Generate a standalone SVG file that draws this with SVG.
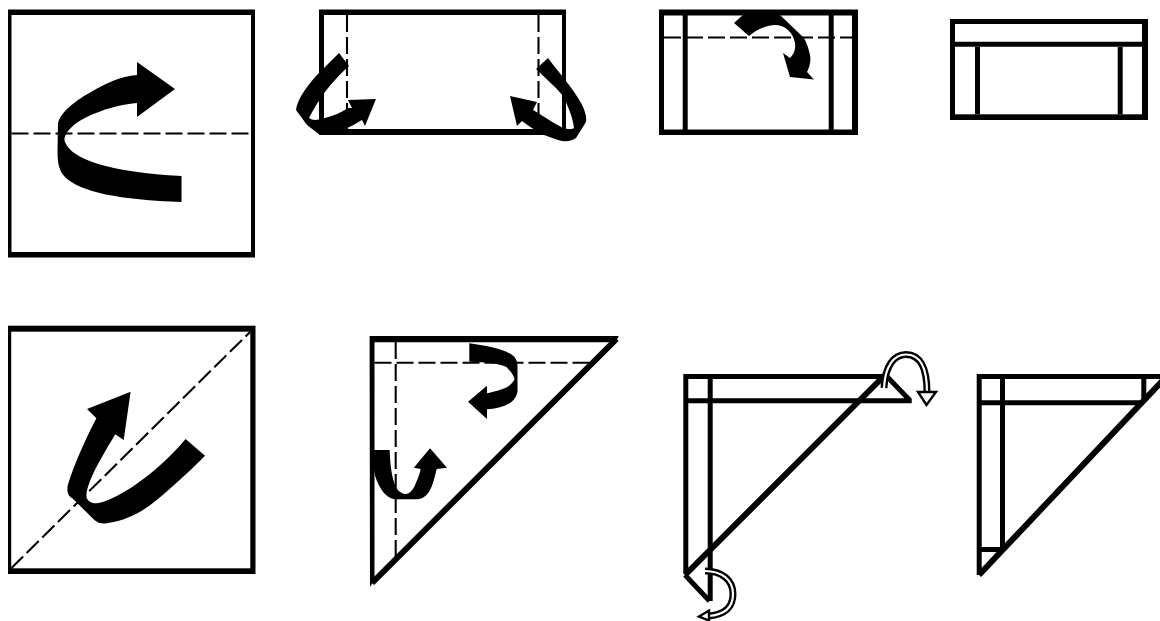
<svg xmlns="http://www.w3.org/2000/svg" width="1160" height="621" viewBox="0 0 1160 621">
<style>
.b{fill:#000;stroke:none}
.w{fill:#fff;stroke:none}
.l{fill:none;stroke:#000;stroke-width:5}
.h{fill:none;stroke:#000;stroke-width:6}
.d{fill:none;stroke:#000;stroke-width:2.1;stroke-dasharray:17 5}
.ho{fill:none;stroke:#000;stroke-width:7}
.hi{fill:none;stroke:#fff;stroke-width:2.2}
.hh{fill:#fff;stroke:#000;stroke-width:2.4}
</style>
<rect width="1160" height="621" fill="#fff"/>
<g id="fig1">
<rect class="b" x="8" y="9.5" width="247" height="248"/>
<rect class="w" x="11.5" y="15" width="239.5" height="237"/>
<path class="d" d="M11.5 133.5H251"/>
<path class="b" d="M137 62L175 89L137 117V103C112 105 85 116 74 125C67 131 63 137 65 142C72 160 110 172 181.5 176V202C120 200 80 192 65 177C58 170 57.5 160 57.5 150L58 123C62 108 85 95 100 87C115 79 125 76 137 75Z"/>
</g>
<g id="fig2">
<rect class="b" x="319" y="9.5" width="247" height="125.5"/>
<rect class="w" x="324" y="15" width="238" height="114"/>
<path class="d" d="M347 15V129M538.5 15V129"/>
<path class="b" d="M339 53L349 66C338 76 332 83 325 92C319 100 313 110 309 118C313 121 318 120 325 118C333 116 340 113 348 108L352 108L348 100L376 99L365 126L362 120C352 126 343 132 320 135L307 125L296 110C297 99 309 83 320 72Z"/>
<path class="b" d="M548 58C560 74 573 88 581 103C585 110 587 118 586 122L576 138C570 142 565 142 558 140L544 135C535 130 528 126 522 121L517 126L510 96L537 102L533 110C545 117 555 124 563 128C567 129 571 130 574 128C573 118 568 106 563 96C555 86 545 78 536 69Z"/>
</g>
<g id="fig3">
<rect class="b" x="659" y="9.5" width="199" height="125.5"/>
<rect class="w" x="664" y="15.5" width="188" height="114"/>
<path class="d" d="M664 37.5H852"/>
<path class="l" d="M685.2 15V130M831.2 15V130"/>
<path class="b" d="M743 15L734 23L749 36C757 29 768 25 775 25C785 25 793 32 795 43C796 50 793 55 790 58L783 53L790 77L814 79.5L807 72C810 66 811 60 810 55C808 46 806 41 803 37L780 15Z"/>
</g>
<g id="fig4">
<rect class="b" x="950" y="19" width="198" height="101"/>
<rect class="w" x="955" y="24" width="187" height="90.3"/>
<path class="l" d="M955 44.2H1142M977.5 47V114.3M1120.2 47V114.3"/>
</g>
<g id="fig5">
<rect class="b" x="8" y="325.7" width="247.5" height="248.3"/>
<rect class="w" x="11.2" y="331.7" width="239.1" height="236.6"/>
<path class="d" d="M11 568.5L250 332"/>
<path class="b" d="M130.6 391.7L87 409L96.4 418.3C84 442 72 470 67.5 486.7C67 492 68 496 72.3 498.3L94.4 520C98 523 102 524 106.5 523.3C130 520 145 510 160.7 496.7C178 482 193 468 205 455.7L185.6 439C170 458 150 475 132.6 486.7C118 496 106 502 96.4 503.3C90 503 86 500 86.4 495C88 480 100 460 115.3 434.3L123.7 440Z"/>
</g>
<g id="fig6">
<path class="h" d="M616.5 339L372 583"/>
<path class="b" d="M369.6 336H618.7L616 342.3H374.5V580L370 587Z"/>
<path class="d" d="M374.5 362.7H590.6M395.7 342V558"/>
<path class="b" d="M469.3 343.3C490 346 507 350 514.3 356.7C517 360 517.5 363 517.5 366.7V391.7C516 398 513 401 510 403C503 407 495 409 487 409.3V419L468 401.7L487 385.7V393.3C497 391 505 389 510 385C513 382 515 380 514.3 378.3C512 372 509 370 506 366.7C497 363 485 362 469.3 361.7Z"/>
<path class="b" d="M373.6 450H389.7C390 465 392 478 395.7 486.7C398 491 402 494 405.8 494C410 494 413 490 415.8 483.3C418 478 420 473 420.7 469L413.8 467.7L430 448.3L447 467.7L436.7 469C434 480 432 488 428 493.3C425 497 421 499.3 417.8 499.3H395.7C390 499 385 495 381.7 490C378 484 375 478 374 470Z"/>
</g>
<g id="fig7">
<path class="l" d="M685.8 573V376.6H884M685.8 400.8H911.7M710.2 379V601M886 375.5L910 400.5M685 575L709.5 601"/>
<path class="h" d="M883 377L685 575"/>
<path class="ho" d="M884 388C885 366 894 354.5 906 354.5C920 354.5 927 368 927 392"/>
<path class="hi" d="M884 388C885 366 894 354.5 906 354.5C920 354.5 927 368 927 392"/>
<path class="hh" d="M918 392H936L926.5 405Z"/>
<path class="ho" d="M705 571C722 571 733 580 733 594C733 607 725 615 708 616"/>
<path class="hi" d="M705 571C722 571 733 580 733 594C733 607 725 615 708 616"/>
<path class="hh" d="M699 616.5L709 610.5V620.5Z"/>
</g>
<g id="fig8">
<path class="l" d="M979.2 575V376.5H1160M981 402.8H1143M1002.5 379V550M1143.8 379V402M981 549.5H1003"/>
<path class="h" d="M979 575L1165 378"/>
</g>
</svg>
